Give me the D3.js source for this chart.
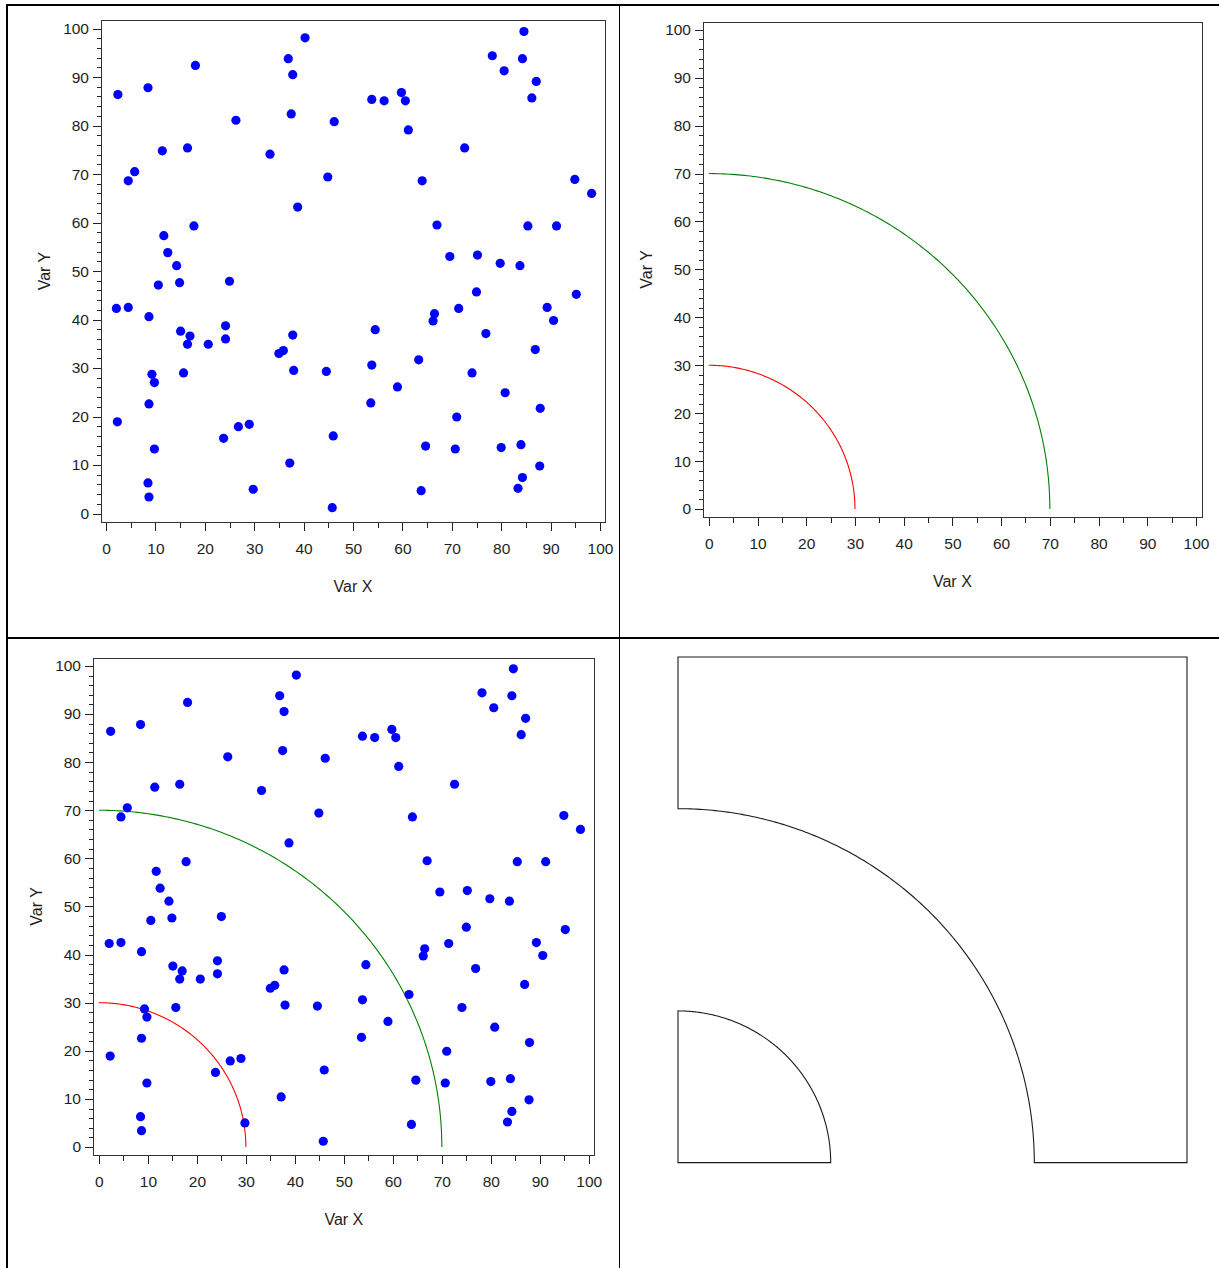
<!DOCTYPE html>
<html>
<head>
<meta charset="utf-8">
<script src="https://cdn.jsdelivr.net/npm/d3@7"></script>
<style>
  html, body { margin: 0; padding: 0; background: #fff; }
  svg { display: block; font-family: "Liberation Sans", Arial, sans-serif; }
</style>
</head>
<body>
<svg id="chart" width="1219" height="1268"></svg>
<script>
// random points (Var X, Var Y)
const varX = [2.4, 8.5, 18.1, 2.3, 2.1, 4.5, 4.5, 5.8, 8.7, 9.3, 9.8, 8.7, 9.8, 8.5, 8.7, 10.6, 11.4, 11.7, 12.5, 14.3,
  14.9, 15.1, 16.5, 17.8, 17.0, 16.5, 15.7, 20.7, 25.0, 24.2, 24.2, 23.8, 26.3, 26.8, 29.0, 29.8, 33.2, 36.9, 37.8, 40.3,
  37.5, 38.8, 35.0, 35.9, 37.8, 38.0, 37.2, 44.9, 46.2, 44.6, 46.0, 45.8, 53.8, 56.3, 59.8, 60.6, 61.2, 54.5, 53.8, 53.6,
  59.0, 64.0, 67.0, 69.6, 66.5, 66.2, 63.3, 64.7, 63.8, 72.6, 71.4, 71.0, 70.7, 75.2, 75.0, 76.9, 74.1, 78.2, 80.6, 84.6,
  84.3, 87.1, 86.2, 79.8, 83.8, 85.4, 91.2, 94.9, 98.3, 95.2, 89.3, 90.6, 86.9, 80.8, 87.9, 80.0, 84.0, 87.8, 84.3, 83.4];
const varY = [86.4, 87.8, 92.4, 18.9, 42.3, 42.5, 68.6, 70.5, 40.6, 28.7, 27.0, 22.6, 13.3, 6.3, 3.4, 47.1, 74.8, 57.3, 53.8, 51.1,
  47.6, 37.6, 75.4, 59.3, 36.6, 34.9, 29.0, 34.9, 47.9, 38.7, 36.0, 15.5, 81.1, 17.9, 18.4, 5.0, 74.1, 93.8, 90.5, 98.1,
  82.4, 63.2, 33.0, 33.6, 36.8, 29.5, 10.4, 69.4, 80.8, 29.3, 16.0, 1.2, 85.4, 85.1, 86.8, 85.1, 79.1, 37.9, 30.6, 22.8,
  26.1, 68.6, 59.5, 53.0, 41.2, 39.7, 31.7, 13.9, 4.7, 75.4, 42.3, 19.9, 13.3, 53.3, 45.7, 37.1, 29.0, 94.4, 91.3, 99.4,
  93.8, 89.1, 85.7, 51.6, 51.1, 59.3, 59.3, 68.9, 66.0, 45.2, 42.5, 39.8, 33.8, 24.9, 21.7, 13.6, 14.2, 9.8, 7.4, 5.2];

// circle radii and colours
const arcRadii = [30, 70];
const arcColors = ['#ff0000', '#008000'];

// axis ticks
const majorTicks = [0, 10, 20, 30, 40, 50, 60, 70, 80, 90, 100];
const xMinorTicks = d3.range(5, 100, 10);
const yMinorTicks = d3.range(0, 101, 2).filter(v => v % 10 !== 0);

const points = varX.map((x, i) => ({ x: x, y: varY[i] }));

const svg = d3.select('#chart');
const textColor = '#1e1e1e';

// table grid
svg.append('rect').attr('x', 6).attr('y', 4).attr('width', 1213).attr('height', 2).attr('fill', '#000');
svg.append('rect').attr('x', 6).attr('y', 4).attr('width', 2).attr('height', 1264).attr('fill', '#000');
svg.append('rect').attr('x', 6).attr('y', 637).attr('width', 1213).attr('height', 2).attr('fill', '#000');
svg.append('rect').attr('x', 619).attr('y', 4).attr('width', 1).attr('height', 1264).attr('fill', '#000');

function makePanel(p) {
    const xScale = d3.scaleLinear().domain([0, 100]).range([p.x0, p.x1]);
    const yScale = d3.scaleLinear().domain([0, 100]).range([p.y0, p.y1]);
    const g = svg.append('g');

    if (p.axes) {
        const left = p.fl, bottom = p.fb;
        // y axis
        const yMajor = d3.axisLeft(yScale).tickValues(majorTicks).tickSize(8).tickPadding(4);
        const yMinor = d3.axisLeft(yScale).tickValues(yMinorTicks).tickSize(4).tickFormat('');
        g.append('g').attr('transform', `translate(${left},0)`).call(yMajor);
        g.append('g').attr('transform', `translate(${left},0)`).call(yMinor);
        // x axis
        const xMajor = d3.axisBottom(xScale).tickValues(majorTicks).tickSize(9).tickPadding(12);
        const xMinor = d3.axisBottom(xScale).tickValues(xMinorTicks).tickSize(6).tickFormat('');
        g.append('g').attr('transform', `translate(0,${bottom})`).call(xMajor);
        g.append('g').attr('transform', `translate(0,${bottom})`).call(xMinor);

        g.selectAll('.domain').remove();
        g.selectAll('.tick line').attr('stroke', '#222').attr('shape-rendering', 'crispEdges');
        g.selectAll('.tick text').attr('fill', textColor).style('font-size', '15.5px');

        // frame
        g.append('rect')
            .attr('x', left).attr('y', p.ft)
            .attr('width', p.fr - left).attr('height', bottom - p.ft)
            .attr('fill', 'none').attr('stroke', '#333').attr('shape-rendering', 'crispEdges');

        g.append('text')
            .attr('x', (p.x0 + p.x1) / 2).attr('y', bottom + 70)
            .attr('text-anchor', 'middle').attr('fill', textColor)
            .style('font-size', '16px').text('Var X');
        g.append('text')
            .attr('transform', `translate(${left - 51},${(p.y0 + p.y1) / 2}) rotate(-90)`)
            .attr('text-anchor', 'middle').attr('fill', textColor)
            .style('font-size', '16px').text('Var Y');
    }
    return { g, xScale, yScale };
}

function drawArcs(panel) {
    const line = d3.line().x(d => panel.xScale(d[0])).y(d => panel.yScale(d[1]));
    arcRadii.forEach((r, i) => {
        const pts = d3.range(0, 181).map(k => {
            const a = k / 180 * Math.PI / 2;
            return [r * Math.cos(a), r * Math.sin(a)];
        });
        panel.g.append('path').attr('d', line(pts))
            .attr('fill', 'none').attr('stroke', arcColors[i]).attr('stroke-width', 1.1);
    });
}

function drawPoints(panel) {
    panel.g.selectAll('circle.pt')
        .data(points)
        .enter()
        .append('circle')
        .attr('class', 'pt')
        .attr('cx', d => panel.xScale(d.x))
        .attr('cy', d => panel.yScale(d.y))
        .attr('r', 4.6)
        .attr('fill', '#0000ff');
}

// top left: scatter
const p1 = makePanel({ axes: true, x0: 106, x1: 600, y0: 513.5, y1: 28.6, fl: 101, fr: 605, ft: 20, fb: 522 });
drawPoints(p1);

// top right: circles
const p2 = makePanel({ axes: true, x0: 708.8, x1: 1196, y0: 509, y1: 29.8, fl: 703, fr: 1202, ft: 22, fb: 517 });
drawArcs(p2);

// bottom left: both
const p3 = makePanel({ axes: true, x0: 98.9, x1: 588.8, y0: 1147, y1: 665.9, fl: 93, fr: 594, ft: 658, fb: 1155 });
drawArcs(p3);
drawPoints(p3);

// bottom right: map regions
const p4 = makePanel({ axes: false, x0: 678, x1: 1187, y0: 1162.6, y1: 657 });
function arcPts(r, from, to) {
    return d3.range(0, 181).map(k => {
        const a = (from + (to - from) * k / 180) * Math.PI / 180;
        return [r * Math.cos(a), r * Math.sin(a)];
    });
}
const outerRegion = [[0, 100], [100, 100], [100, 0], ...arcPts(arcRadii[1], 0, 90), [0, 100]];
const innerRegion = [[0, 0], ...arcPts(arcRadii[0], 0, 90), [0, 0]];
const mapLine = d3.line().x(d => p4.xScale(d[0])).y(d => p4.yScale(d[1]));
[outerRegion, innerRegion].forEach(reg => {
    p4.g.append('path').attr('d', mapLine(reg) + 'Z')
        .attr('fill', 'none').attr('stroke', '#1a1a1a').attr('stroke-width', 1.1);
});
</script>
</body>
</html>
